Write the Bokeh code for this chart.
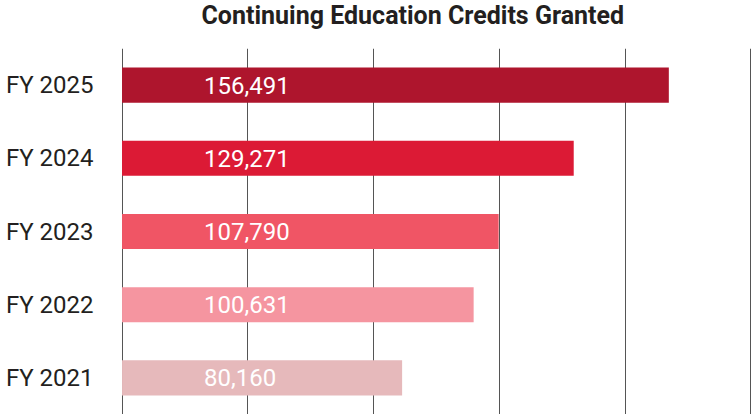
from bokeh.plotting import figure
from bokeh.models import ColumnDataSource, FixedTicker, Range1d
from bokeh.layouts import column
from bokeh.core.properties import value
from bokeh.embed import file_html
from bokeh.resources import INLINE

title_text = "Continuing Education Credits Granted"
categories = ["FY 2021", "FY 2022", "FY 2023", "FY 2024", "FY 2025"]
credits = [80160, 100631, 107790, 129271, 156491]
palette = ["#e6b9bb", "#f595a0", "#f05565", "#dc1a35", "#ae152d"]
grid_ticks = [0, 36000, 72000, 108000, 144000, 180000]

src = ColumnDataSource(dict(
    cat=categories,
    val=credits,
    color=palette,
    label=[f"{v:,}" for v in credits],
))

# title strip: frame aligned with the chart frame (121..751 px)
t = figure(width=751, height=48, x_range=Range1d(121, 751), y_range=Range1d(0, 48),
           x_axis_location=None, y_axis_location=None,
           output_backend="svg", toolbar_location=None,
           min_border_left=121, min_border_right=0,
           min_border_top=0, min_border_bottom=0)
t.grid.visible = False
t.outline_line_color = None
t.text(x=[201], y=[33], text=[title_text], text_font=value("Roboto"),
       text_font_style="bold", text_font_size="25px", text_color="#231f20",
       text_baseline="alphabetic", text_align="left")

p = figure(width=751, height=366, y_range=categories,
           x_range=Range1d(-150, 180150),
           output_backend="svg", toolbar_location=None,
           min_border_left=121, min_border_right=0, min_border_bottom=0,
           min_border_top=0)

p.hbar(y="cat", right="val", left=0, height=0.48, color="color", source=src,
       line_color=None)
p.text(x=0, y="cat", text="label", source=src, x_offset=82,
       text_font=value("Roboto"), text_font_size="24px",
       text_color="white", text_baseline="middle", text_align="left")

p.xaxis.visible = False
p.yaxis.axis_line_color = None
p.yaxis.major_tick_line_color = None
p.yaxis.minor_tick_line_color = None
p.yaxis.major_tick_out = 0
p.yaxis.major_label_standoff = 28
p.yaxis.major_label_text_font = "Roboto"
p.yaxis.major_label_text_font_size = "24px"
p.yaxis.major_label_text_color = "#231f20"

p.xgrid.ticker = FixedTicker(ticks=grid_ticks)
p.xgrid.grid_line_color = "#555555"
p.xgrid.grid_line_alpha = 1.0
p.xgrid.grid_line_width = 1
p.ygrid.grid_line_color = None
p.outline_line_color = None

layout = column(t, p, spacing=0)
open("out.html", "w").write(file_html(layout, INLINE))
